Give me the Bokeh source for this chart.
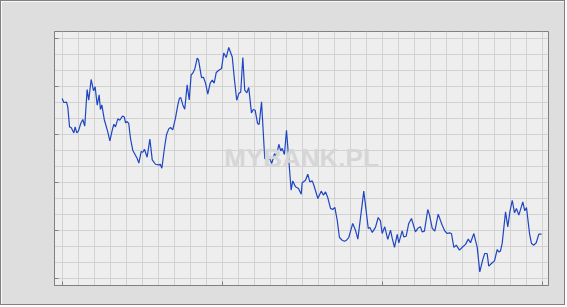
from bokeh.plotting import figure
from bokeh.models import Range1d, FixedTicker, Label
from bokeh.embed import file_html
from bokeh.resources import INLINE

# ---- data (day index, value) ----
days = [0, 1.0, 2.7, 3.5, 4.6, 5.6, 7.3, 8.1, 9.1, 10.2, 11.6, 12.9, 14.1, 15.6, 16.6, 18.1, 19.6,
        20.6, 21.9, 23.1, 23.9, 24.8, 26.3, 28.5, 29.8, 31.3, 32.3, 33.3, 34.8, 36.0, 37.7, 38.8,
        39.6, 40.6, 41.6, 42.7, 44.1, 46.9, 47.9, 49.4, 50.4, 51.4, 53.1, 54.8, 56.3, 58.3, 60.4,
        61.3, 62.3, 63.9, 65.2, 66.6, 67.7, 69.1, 70.8, 72.3, 73.3, 74.1, 75.4, 76.6, 78.1, 79.4,
        80.6, 81.6, 82.9, 84.4, 85.2, 87.1, 88.3, 89.6, 91.0, 92.5, 93.8, 95.0, 96.3, 97.9, 99.6,
        101.0, 102.5, 104.1, 106.3, 107.7, 109.1, 110.4, 111.6, 112.9, 114.1, 115.4, 116.6, 118.3,
        119.4, 120.6, 122.1, 123.1, 124.6, 126.6, 127.5, 129.1, 131.0, 132.7, 133.9, 135.4, 136.6,
        137.5, 138.9, 140.2, 143.1, 144.1, 145.8, 147.7, 149.4, 150.0, 152.1, 153.5, 154.8, 156.3,
        157.3, 159.8, 161.9, 163.3, 164.6, 166.0, 167.7, 169.1, 170.4, 171.9, 173.3, 175.0, 176.4,
        177.7, 179.1, 181.6, 183.3, 184.8, 188.5, 191.3, 192.3, 193.8, 195.8, 197.5, 198.9, 200.0,
        201.6, 203.5, 205.2, 206.3, 207.7, 209.4, 210.4, 212.5, 213.5, 215.0, 216.6, 218.3, 220.8,
        222.5, 223.9, 225.0, 226.4, 228.5, 229.6, 231.3, 232.9, 235.0, 237.5, 239.1, 240.6, 242.1,
        243.3, 244.8, 246.3, 248.3, 250.4, 252.1, 253.8, 255.2, 257.3, 259.4, 261.0, 262.9, 264.1,
        265.6, 266.6, 268.8, 270.2, 271.9, 272.9, 273.9, 275.0, 277.1, 278.5, 279.8, 281.3, 282.7,
        283.9, 285.4, 287.9, 289.1, 290.2, 292.1, 293.3, 294.8, 296.3, 297.9, 299.6]

values = [11.25, 11.0, 11.02, 10.73, 9.48, 9.44, 9.1, 9.48, 9.1, 9.23, 9.69, 9.94, 9.52, 11.81, 11.14,
          12.44, 11.73, 11.98, 10.83, 11.48, 10.56, 10.85, 9.94, 9.16, 8.6, 9.27, 9.64, 9.48, 9.98,
          9.89, 10.16, 10.1, 9.73, 9.81, 9.69, 8.75, 8.02, 7.5, 7.21, 7.94, 7.89, 8.08, 7.58, 8.71,
          7.41, 7.14, 7.1, 7.14, 6.89, 8.14, 8.98, 9.35, 9.44, 9.29, 10.02, 10.85, 11.27, 11.31,
          10.85, 10.58, 12.1, 11.16, 12.73, 12.83, 13.1, 13.77, 13.66, 12.56, 12.58, 12.21, 11.52,
          12.21, 12.41, 12.21, 12.88, 13.02, 13.13, 14.1, 13.81, 14.44, 13.85, 12.39, 11.14, 11.56,
          11.66, 13.81, 11.77, 11.6, 11.94, 10.35, 10.56, 10.52, 9.69, 9.63, 11.04, 7.5, 7.46, 7.64,
          7.19, 7.81, 7.64, 8.39, 7.98, 8.13, 7.75, 9.27, 5.52, 6.1, 5.73, 5.63, 5.27, 5.98, 6.14,
          6.52, 6.04, 6.1, 5.83, 5.0, 5.46, 5.21, 5.41, 5.06, 4.38, 4.31, 4.44, 3.64, 2.56, 2.39,
          2.33, 2.39, 2.56, 3.44, 3.02, 2.46, 5.46, 3.13, 3.19, 2.88, 3.19, 3.81, 3.6, 2.81, 3.23,
          2.44, 3.02, 2.5, 1.94, 2.75, 2.23, 2.98, 2.6, 2.64, 3.44, 3.75, 2.91, 3.16, 3.23, 2.91,
          2.96, 4.31, 3.96, 3.13, 2.96, 4.02, 3.33, 2.98, 2.81, 2.85, 2.81, 1.94, 2.08, 1.77, 1.98,
          2.13, 2.46, 2.23, 2.81, 1.94, 0.41, 1.19, 1.56, 1.56, 0.77, 0.98, 1.1, 1.81, 1.66, 1.71,
          2.19, 4.16, 3.23, 4.16, 4.89, 4.1, 4.38, 3.96, 4.79, 4.23, 4.44, 2.81, 2.19, 2.08, 2.23,
          2.77, 2.77]

x_grid = list(range(0, 301, 10))
x_ticks = [0, 100, 200, 300]
y_grid = list(range(0, 16))
y_ticks = [0, 3, 6, 9, 12, 15]
watermark = "MYBANK.PL"

p = figure(width=565, height=305, output_backend="svg", toolbar_location=None,
           x_range=Range1d(-4.8, 303.95), y_range=Range1d(-0.44, 15.44),
           min_border_left=53, min_border_right=18, min_border_top=30, min_border_bottom=21)
p.styles = {"border": "1px solid #808080"}
p.background_fill_color = "#eeeeee"
p.border_fill_color = "#dedede"
p.outline_line_color = "#808080"
p.outline_line_width = 1

for ax, ticks in ((p.xaxis[0], x_ticks), (p.yaxis[0], y_ticks)):
    ax.ticker = FixedTicker(ticks=ticks)
    ax.major_label_overrides = {t: "" for t in ticks}
    ax.major_label_text_font_size = "1px"
    ax.major_label_standoff = 0
    ax.major_tick_in = 4
    ax.major_tick_out = 0
    ax.minor_tick_line_color = None
    ax.axis_line_color = "#808080"
    ax.major_tick_line_color = "#808080"

p.xgrid.ticker = FixedTicker(ticks=x_grid)
p.ygrid.ticker = FixedTicker(ticks=y_grid)
p.xgrid.grid_line_color = "#d2d2d2"
p.ygrid.grid_line_color = "#d2d2d2"

p.add_layout(Label(x=149.6, y=7.52, text=watermark, text_align="center", text_baseline="middle",
                   text_font="Liberation Sans", text_font_style="bold", text_font_size="26px",
                   text_color="#d6d6d6"))

p.line(days, values, line_color="#1f46c2", line_width=1.2)

open("out.html", "w").write(file_html(p, INLINE))
